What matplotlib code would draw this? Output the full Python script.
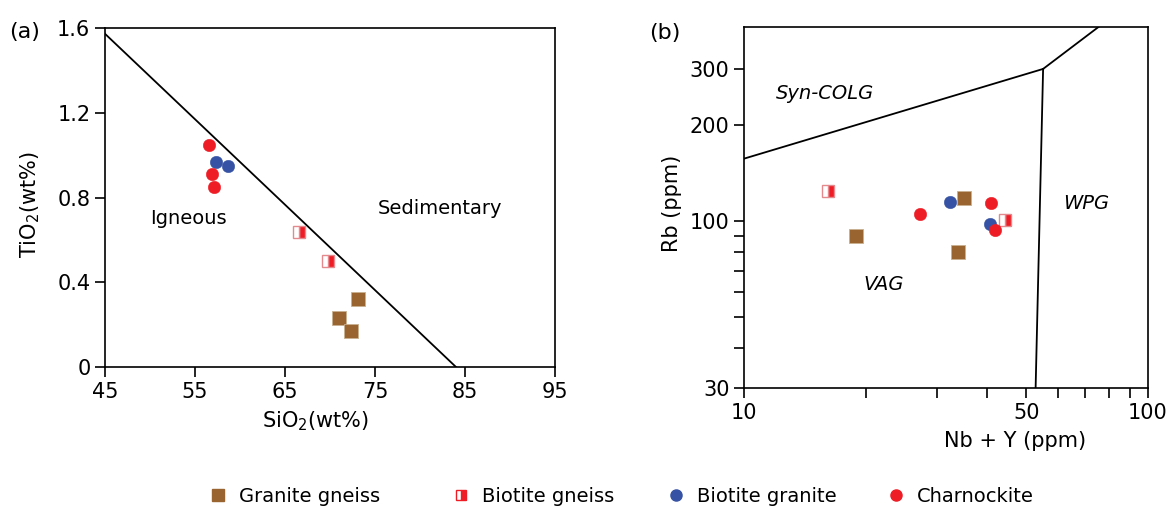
import matplotlib
matplotlib.use("Agg")
import matplotlib.pyplot as plt
from matplotlib.lines import Line2D
from matplotlib.ticker import FixedLocator, FixedFormatter, NullFormatter

plt.rcParams['font.family'] = ['DejaVu Sans']
plt.rcParams['mathtext.fontset'] = 'dejavusans'

# ---- (a) TiO2 vs SiO2 ----
sio2_granite_gneiss = [73.1, 71.0, 72.3]
tio2_granite_gneiss = [0.32, 0.23, 0.17]
sio2_biotite_gneiss = [66.5, 69.8]
tio2_biotite_gneiss = [0.64, 0.50]
sio2_biotite_granite = [57.3, 58.7]
tio2_biotite_granite = [0.97, 0.95]
sio2_charnockite = [56.6, 56.9, 57.1]
tio2_charnockite = [1.05, 0.91, 0.85]

# Igneous / sedimentary divide
divide_sio2 = [45.0, 84.0]
divide_tio2 = [1.575, 0.0]

sio2_ticks = [45, 55, 65, 75, 85, 95]
tio2_ticks = [0, 0.4, 0.8, 1.2, 1.6]
tio2_tick_labels = ["0", "0.4", "0.8", "1.2", "1.6"]

# ---- (b) Rb vs Nb+Y ----
nby_granite_gneiss = [35.0, 18.9, 33.9]
rb_granite_gneiss = [118, 90, 80]
nby_biotite_gneiss = [16.1, 44.2]
rb_biotite_gneiss = [124, 101]
nby_biotite_granite = [32.3, 40.6]
rb_biotite_granite = [115, 98]
nby_charnockite = [27.3, 40.9, 41.8]
rb_charnockite = [105, 114, 94]

# Tectonic field boundaries
colg_vag_x = [10, 55]
colg_vag_y = [157, 300]
colg_wpg_x = [55, 75.4]
colg_wpg_y = [300, 406]
vag_wpg_x = [55, 52.7]
vag_wpg_y = [300, 30]

nby_major = [10, 50, 100]
nby_minor = [20, 30, 40, 60, 70, 80, 90]
rb_major = [30, 100, 200, 300]
rb_minor = [40, 50, 60, 70, 80, 90]

C_BROWN = "#9a6431"
C_RED = "#ee1d25"
C_BLUE = "#3652a4"
C_PINK = "#e48a8e"

fig = plt.figure(figsize=(11.67, 5.11), dpi=100)
ax_a = fig.add_axes([105 / 1167, 1 - 367 / 511, 450 / 1167, 338.5 / 511])
ax_b = fig.add_axes([744 / 1167, 1 - 388 / 511, 404 / 1167, 361 / 511])

tick_kw = dict(direction="out", length=7, width=1.2, labelsize=15)


def draw_points(ax, gg, bg, bgr, ch):
    ax.plot(*gg, ls="none", marker="s", ms=9.5, mfc=C_BROWN, mec="#c9b08f",
            mew=0.6, zorder=3)
    ax.plot(*bg, ls="none", marker="s", ms=8, fillstyle="right", mfc=C_RED,
            mfcalt="white", mec=C_PINK, mew=1.0, zorder=3)
    ax.plot(*bgr, ls="none", marker="o", ms=9, mfc=C_BLUE, mec=C_BLUE,
            mew=0.3, zorder=3)
    ax.plot(*ch, ls="none", marker="o", ms=9, mfc=C_RED, mec=C_RED,
            mew=0.3, zorder=3)


# Panel (a)
ax_a.plot(divide_sio2, divide_tio2, color="black", lw=1.3)
draw_points(ax_a,
            (sio2_granite_gneiss, tio2_granite_gneiss),
            (sio2_biotite_gneiss, tio2_biotite_gneiss),
            (sio2_biotite_granite, tio2_biotite_granite),
            (sio2_charnockite, tio2_charnockite))
ax_a.set_xlim(45, 95)
ax_a.set_ylim(0, 1.6)
ax_a.set_xticks(sio2_ticks)
ax_a.set_yticks(tio2_ticks)
ax_a.set_yticklabels(tio2_tick_labels)
ax_a.tick_params(**tick_kw)
for s in ax_a.spines.values():
    s.set_linewidth(1.2)
ax_a.set_xlabel("SiO$_2$(wt%)", fontsize=15)
ax_a.xaxis.set_label_coords(0.467, -0.125)
ax_a.set_ylabel("TiO$_2$(wt%)", fontsize=15)
ax_a.yaxis.set_label_coords(-0.14, 0.48)
ax_a.text(54.3, 0.70, "Igneous", fontsize=14, ha="center", va="center")
ax_a.text(82.2, 0.75, "Sedimentary", fontsize=14, ha="center", va="center")

# Panel (b)
for xs, ys in [(colg_vag_x, colg_vag_y), (colg_wpg_x, colg_wpg_y),
               (vag_wpg_x, vag_wpg_y)]:
    ax_b.plot(xs, ys, color="black", lw=1.3)
draw_points(ax_b,
            (nby_granite_gneiss, rb_granite_gneiss),
            (nby_biotite_gneiss, rb_biotite_gneiss),
            (nby_biotite_granite, rb_biotite_granite),
            (nby_charnockite, rb_charnockite))
ax_b.set_xscale("log")
ax_b.set_yscale("log")
ax_b.set_xlim(10, 100)
ax_b.set_ylim(30, 406)
ax_b.xaxis.set_major_locator(FixedLocator(nby_major))
ax_b.xaxis.set_major_formatter(FixedFormatter([str(v) for v in nby_major]))
ax_b.xaxis.set_minor_locator(FixedLocator(nby_minor))
ax_b.xaxis.set_minor_formatter(NullFormatter())
ax_b.yaxis.set_major_locator(FixedLocator(rb_major))
ax_b.yaxis.set_major_formatter(FixedFormatter([str(v) for v in rb_major]))
ax_b.yaxis.set_minor_locator(FixedLocator(rb_minor))
ax_b.yaxis.set_minor_formatter(NullFormatter())
ax_b.tick_params(which="both", **tick_kw)
for s in ax_b.spines.values():
    s.set_linewidth(1.2)
ax_b.set_xlabel("Nb + Y (ppm)", fontsize=15)
ax_b.xaxis.set_label_coords(0.67, -0.12)
ax_b.set_ylabel("Rb (ppm)", fontsize=15)
ax_b.yaxis.set_label_coords(-0.153, 0.512)
ax_b.text(15.9, 252, "Syn-COLG", fontsize=14, style="italic",
          ha="center", va="center")
ax_b.text(70.2, 114, "WPG", fontsize=14, style="italic",
          ha="center", va="center")
ax_b.text(22.2, 63.5, "VAG", fontsize=14, style="italic",
          ha="center", va="center")

fig.text(25 / 1167, 1 - 32 / 511, "(a)", fontsize=16, ha="center", va="center")
fig.text(665 / 1167, 1 - 33 / 511, "(b)", fontsize=16, ha="center", va="center")

# Legend entries along the bottom
legend_items = [
    ("Granite gneiss", dict(marker="s", mfc=C_BROWN, mec=C_BROWN, ms=8), 222),
    ("Biotite gneiss", dict(marker="s", fillstyle="right", mfc=C_RED,
                            mfcalt="white", mec=C_RED, mew=1.0, ms=7.5), 465),
    ("Biotite granite", dict(marker="o", mfc=C_BLUE, mec=C_BLUE, ms=8), 680),
    ("Charnockite", dict(marker="o", mfc=C_RED, mec=C_RED, ms=8), 900),
]
for label, mk, xpix in legend_items:
    h = Line2D([], [], ls="none", **mk)
    fig.legend(handles=[h], labels=[label], loc="center left",
               bbox_to_anchor=((xpix - 14) / 1167, 1 - 496 / 511),
               frameon=False, fontsize=14, handlelength=1.0,
               handletextpad=0.6, borderpad=0, borderaxespad=0)

fig.savefig("out.png", dpi=100)
